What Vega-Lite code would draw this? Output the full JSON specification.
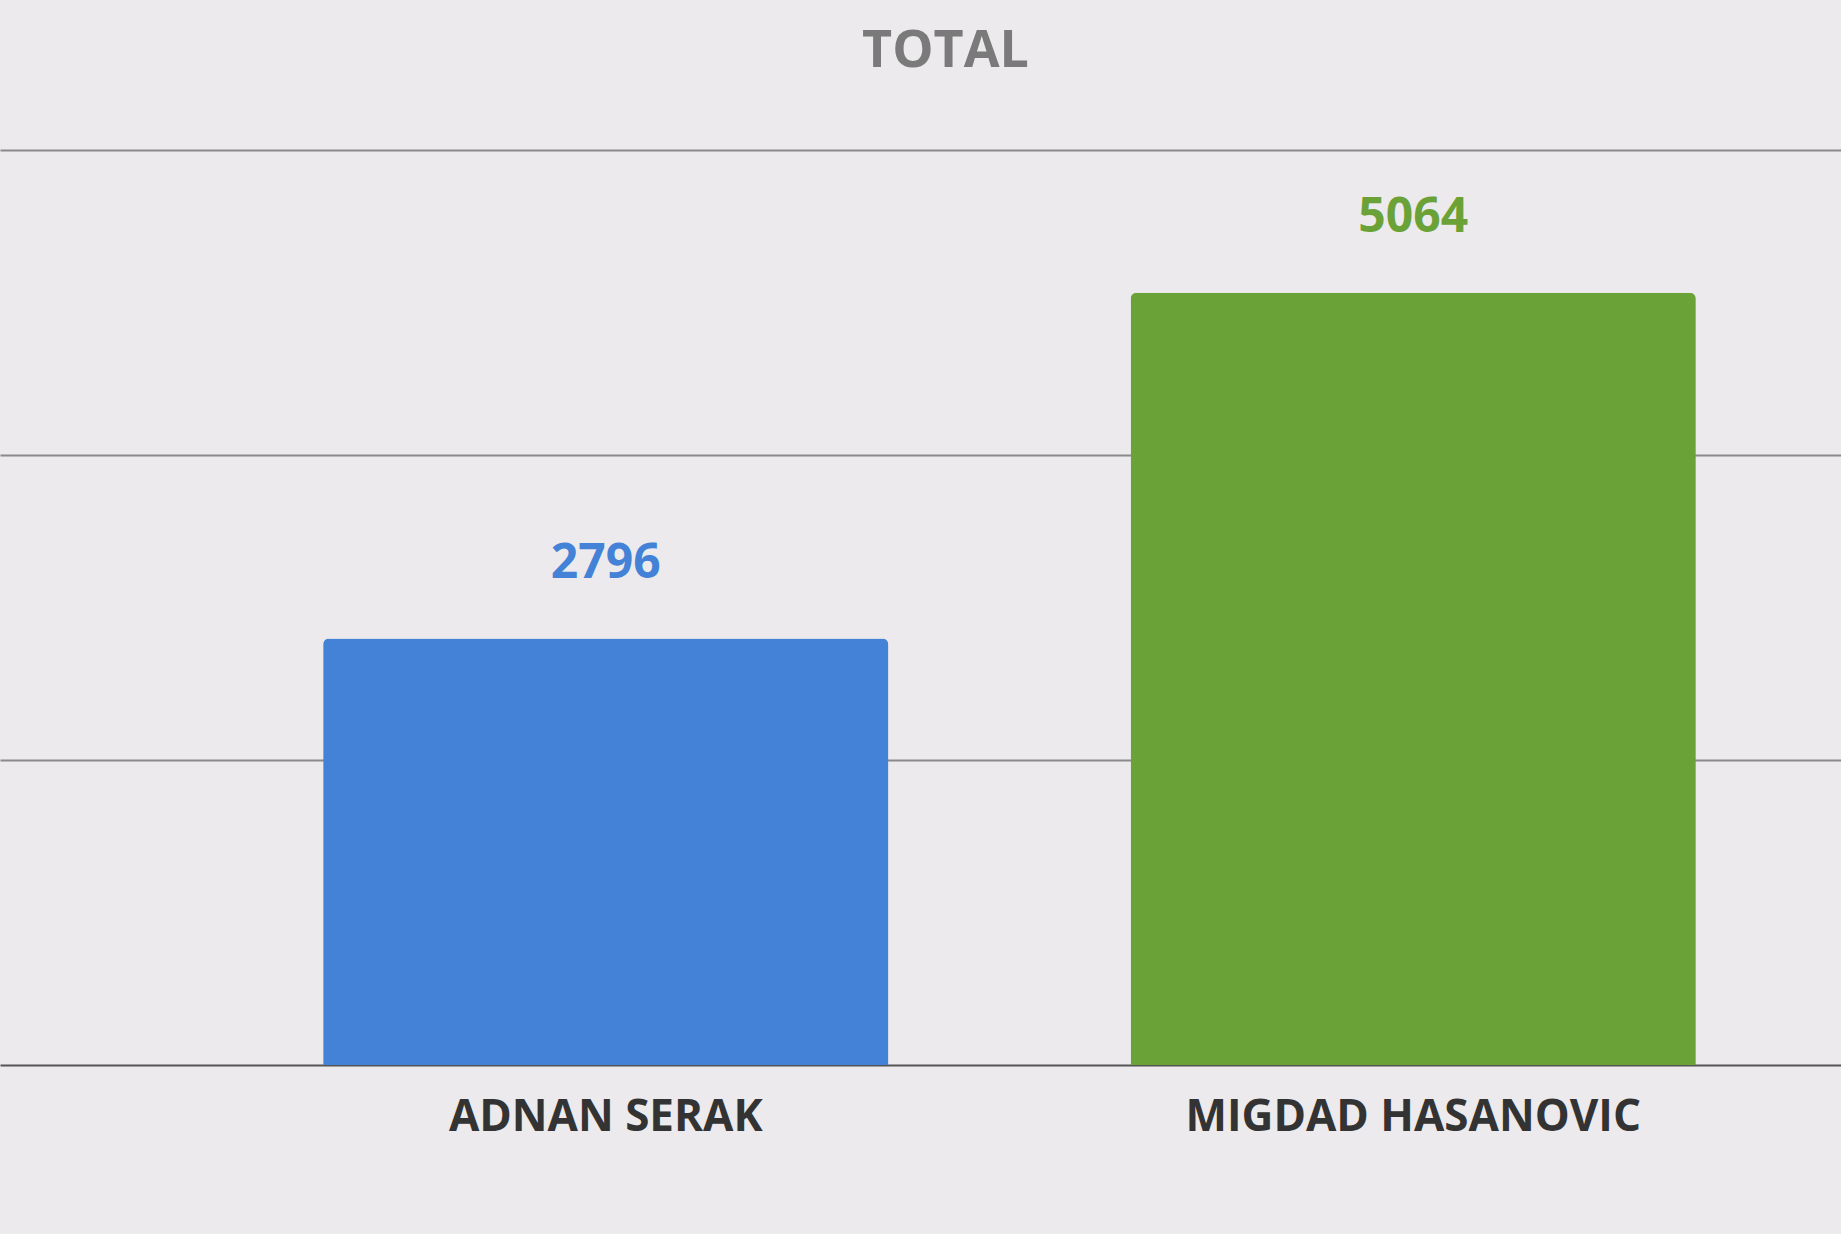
{
  "$schema": "https://vega.github.io/schema/vega-lite/v6.json",
  "width": 1841,
  "height": 915,
  "padding": {"left": 0, "top": 25, "right": 0, "bottom": 95},
  "background": "#ECEAEC",
  "title": {"text": "TOTAL", "font": "Open Sans", "fontSize": 52, "fontWeight": "bold", "color": "#7A7A7A", "offset": 72, "dx": 25},
  "config": {"view": {"stroke": null}},
  "data": {"values": [
    {"name": "ADNAN SERAK", "total": 2796},
    {"name": "MIGDAD HASANOVIC", "total": 5064}
  ]},
  "encoding": {
    "x": {"field": "name", "type": "nominal", "sort": null,
      "scale": {"paddingInner": 0.3, "paddingOuter": 0.29, "align": 0.69},
      "axis": {"title": null, "labelAngle": 0, "labelFont": "Open Sans", "labelFontSize": 44, "labelFontWeight": "bold", "labelColor": "#333333", "labelLimit": 0, "ticks": false, "domainColor": "#555555", "domainWidth": 2, "labelPadding": 30}},
    "y": {"field": "total", "type": "quantitative",
      "scale": {"domain": [0, 6000]},
      "axis": {"title": null, "labels": false, "ticks": false, "domain": false, "values": [2000, 4000, 6000], "gridColor": "#8A8A8A", "gridWidth": 2}},
    "color": {"field": "name", "type": "nominal", "legend": null,
      "scale": {"domain": ["ADNAN SERAK", "MIGDAD HASANOVIC"], "range": ["#4382D6", "#6BA238"]}}
  },
  "layer": [
    {"mark": {"type": "bar", "cornerRadiusTopLeft": 6, "cornerRadiusTopRight": 6}},
    {"mark": {"type": "text", "dy": -75, "font": "Open Sans", "fontSize": 48, "fontWeight": "bold"},
     "encoding": {"text": {"field": "total", "type": "quantitative", "format": "d"}}}
  ]
}
